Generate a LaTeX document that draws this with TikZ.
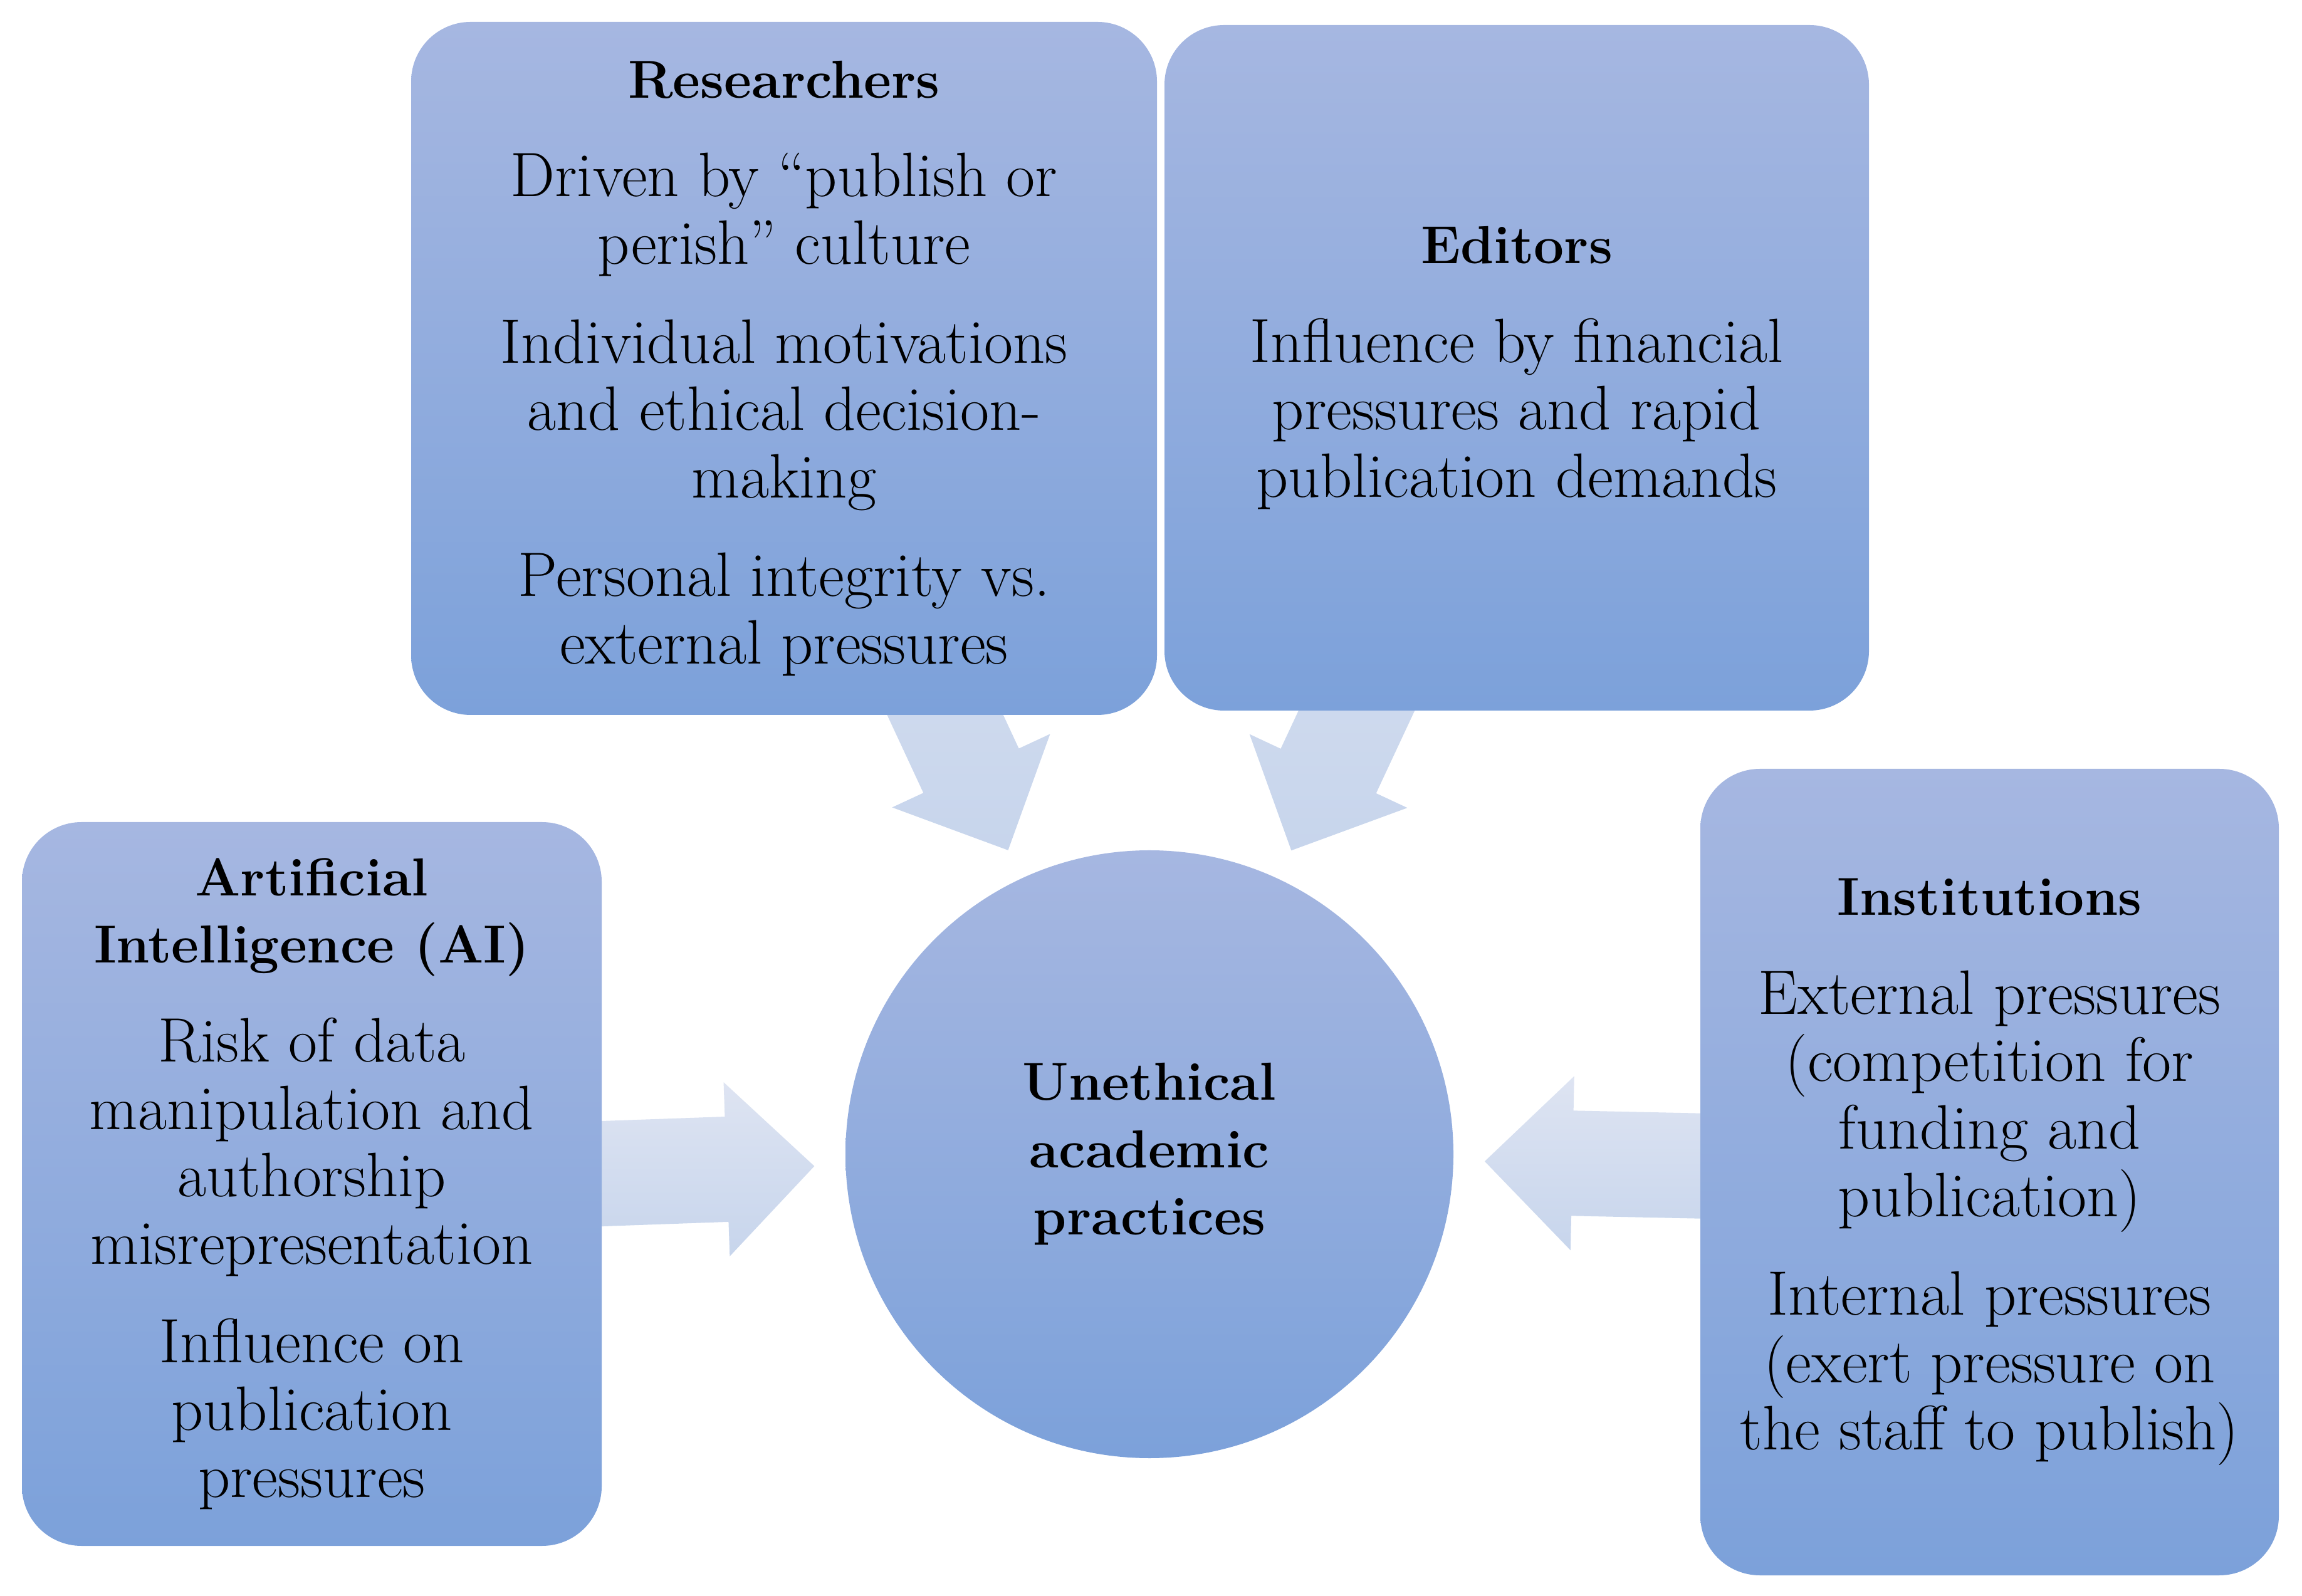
\documentclass[tikz,border=0pt]{standalone}
\usepackage{tikz}
\usetikzlibrary{shapes,arrows,positioning,calc,backgrounds}
\definecolor{boxtop}{RGB}{166,183,225}
\definecolor{boxbot}{RGB}{124,161,218}
\definecolor{arrtop}{RGB}{222,228,242}
\definecolor{arrbot}{RGB}{199,213,236}

\newcommand{\hd}[1]{{\fontsize{24.3}{30.6}\selectfont\bfseries #1}}

% block arrow from a box towards the hub
\newcommand{\fatarrow}[2]{%
  \coordinate (tip) at ($(#2.center)!5.35cm!(#1.center)$);
  \coordinate (base) at ($(tip)!1.4cm!(#1.center)$);
  \shade[top color=arrtop, bottom color=arrbot]
    ($(#1.center)!0.84cm!90:(tip)$) -- ($(base)!0.84cm!90:(tip)$) -- ($(base)!1.39cm!90:(tip)$) -- (tip)
    -- ($(base)!1.39cm!-90:(tip)$) -- ($(base)!0.84cm!-90:(tip)$) -- ($(#1.center)!0.84cm!-90:(tip)$) -- cycle;
}

\begin{document}
\begin{tikzpicture}[
    font=\fontsize{28.5}{30.6}\selectfont,
    box/.style={rectangle, rounded corners=0.95cm, top color=boxtop, bottom color=boxbot, align=center, inner sep=0pt},
    hub/.style={circle, top color=boxtop, bottom color=boxbot, align=center, minimum size=9.7cm, inner sep=0pt}
]
    \useasboundingbox (0,0) rectangle (36.73,25.46);

    \node[hub] (uap) at (18.34,7.04) {\hd{Unethical}\\ \hd{academic}\\ \hd{practices}};

    \node[box, minimum width=11.9cm, minimum height=11.06cm] (res) at (12.51,19.58)
        {\hd{Researchers}\\[0.5cm] Driven by “publish or\\ perish” culture\\[0.5cm] Individual motivations\\ and ethical decision-\\ making\\[0.5cm] Personal integrity vs.\\ external pressures};
    \node[box, minimum width=11.24cm, minimum height=10.94cm] (edi) at (24.20,19.59)
        {\hd{Editors}\\[0.5cm] Influence by financial\\ pressures and rapid\\ publication demands};
    \node[box, minimum width=9.25cm, minimum height=11.55cm] (ai) at (4.975,6.565)
        {\hd{Artificial}\\ \hd{Intelligence (AI)}\\[0.5cm] Risk of data\\ manipulation and\\ authorship\\ misrepresentation\\[0.5cm] Influence on\\ publication\\ pressures};
    \node[box, minimum width=9.23cm, minimum height=12.87cm] (ins) at (31.745,6.755)
        {\hd{Institutions}\\[0.5cm] External pressures\\ (competition for\\ funding and\\ publication)\\[0.5cm] Internal pressures\\ (exert pressure on\\ the staff to publish)};

    % Arrows
    \begin{scope}[on background layer]
        \fatarrow{res}{uap}
        \fatarrow{edi}{uap}
        \fatarrow{ai}{uap}
        \fatarrow{ins}{uap}
    \end{scope}
\end{tikzpicture}
\end{document}
